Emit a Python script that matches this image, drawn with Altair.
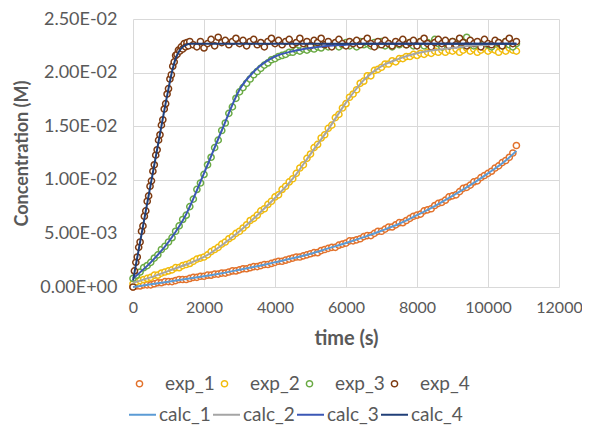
import altair as alt
import pandas as pd

# ---------------- data ----------------
exp_names = ["exp_1", "exp_2", "exp_3", "exp_4"]
calc_names = ["calc_1", "calc_2", "calc_3", "calc_4"]
exp_colors = ["#E2722C", "#F2BC0C", "#6AAA44", "#7E3A10"]
calc_colors = ["#5B9BD5", "#A5A5A5", "#3B57B5", "#203F78"]

# sampling times of the experimental series (s)
t_exp = [0, 100, 200, 300, 400, 500, 600, 700, 800, 900,
         1000, 1100, 1200, 1300, 1400, 1500, 1600, 1700, 1800, 1900,
         2000, 2100, 2200, 2300, 2400, 2500, 2600, 2700, 2800, 2900,
         3000, 3100, 3200, 3300, 3400, 3500, 3600, 3700, 3800, 3900,
         4000, 4100, 4200, 4300, 4400, 4500, 4600, 4700, 4800, 4900,
         5000, 5100, 5200, 5300, 5400, 5500, 5600, 5700, 5800, 5900,
         6000, 6100, 6200, 6300, 6400, 6500, 6600, 6700, 6800, 6900,
         7000, 7100, 7200, 7300, 7400, 7500, 7600, 7700, 7800, 7900,
         8000, 8100, 8200, 8300, 8400, 8500, 8600, 8700, 8800, 8900,
         9000, 9100, 9200, 9300, 9400, 9500, 9600, 9700, 9800, 9900,
         10000, 10100, 10200, 10300, 10400, 10500, 10600, 10700, 10800]

exp_1 = [0.0000, 0.0001, 0.0001, 0.0002, 0.0002, 0.0002, 0.0003, 0.0004, 0.0004, 0.0005,
         0.0005, 0.0005, 0.0006, 0.0007, 0.0007, 0.0007, 0.0008, 0.0009, 0.0009, 0.0010,
         0.0010, 0.0011, 0.0011, 0.0012, 0.0012, 0.0013, 0.0013, 0.0014, 0.0015, 0.0015,
         0.0016, 0.0017, 0.0017, 0.0018, 0.0019, 0.0019, 0.0020, 0.0021, 0.0021, 0.0022,
         0.0023, 0.0024, 0.0024, 0.0025, 0.0026, 0.0027, 0.0028, 0.0028, 0.0029, 0.0030,
         0.0031, 0.0032, 0.0032, 0.0034, 0.0035, 0.0036, 0.0037, 0.0037, 0.0039, 0.0040,
         0.0041, 0.0043, 0.0043, 0.0044, 0.0045, 0.0047, 0.0048, 0.0048, 0.0050, 0.0052,
         0.0052, 0.0054, 0.0056, 0.0056, 0.0058, 0.0060, 0.0060, 0.0062, 0.0064, 0.0066,
         0.0067, 0.0068, 0.0071, 0.0072, 0.0073, 0.0076, 0.0078, 0.0079, 0.0081, 0.0084,
         0.0085, 0.0086, 0.0089, 0.0092, 0.0093, 0.0095, 0.0098, 0.0099, 0.0102, 0.0104,
         0.0106, 0.0108, 0.0111, 0.0113, 0.0116, 0.0118, 0.0121, 0.0125, 0.0132]

exp_2 = [0.0003, 0.0005, 0.0006, 0.0007, 0.0008, 0.0009, 0.0011, 0.0011, 0.0013, 0.0014,
         0.0015, 0.0016, 0.0018, 0.0018, 0.0020, 0.0021, 0.0022, 0.0024, 0.0026, 0.0027,
         0.0028, 0.0030, 0.0033, 0.0035, 0.0037, 0.0040, 0.0042, 0.0045, 0.0047, 0.0050,
         0.0052, 0.0055, 0.0058, 0.0062, 0.0064, 0.0067, 0.0071, 0.0073, 0.0077, 0.0080,
         0.0084, 0.0086, 0.0091, 0.0094, 0.0098, 0.0101, 0.0106, 0.0111, 0.0114, 0.0120,
         0.0124, 0.0130, 0.0133, 0.0139, 0.0142, 0.0148, 0.0151, 0.0158, 0.0161, 0.0167,
         0.0171, 0.0177, 0.0180, 0.0184, 0.0190, 0.0192, 0.0197, 0.0197, 0.0202, 0.0203,
         0.0205, 0.0208, 0.0208, 0.0211, 0.0210, 0.0213, 0.0213, 0.0215, 0.0215, 0.0217,
         0.0216, 0.0218, 0.0217, 0.0219, 0.0218, 0.0220, 0.0219, 0.0221, 0.0219, 0.0221,
         0.0220, 0.0222, 0.0219, 0.0221, 0.0223, 0.0220, 0.0222, 0.0219, 0.0221, 0.0223,
         0.0220, 0.0222, 0.0221, 0.0219, 0.0222, 0.0220, 0.0223, 0.0221, 0.0220]

exp_3 = [0.0008, 0.0011, 0.0014, 0.0018, 0.0020, 0.0023, 0.0027, 0.0030, 0.0035, 0.0038,
         0.0042, 0.0046, 0.0052, 0.0057, 0.0063, 0.0067, 0.0075, 0.0082, 0.0091, 0.0097,
         0.0105, 0.0114, 0.0121, 0.0130, 0.0137, 0.0146, 0.0153, 0.0162, 0.0168, 0.0176,
         0.0182, 0.0186, 0.0190, 0.0194, 0.0198, 0.0201, 0.0204, 0.0207, 0.0209, 0.0212,
         0.0213, 0.0215, 0.0216, 0.0217, 0.0219, 0.0219, 0.0221, 0.0220, 0.0222, 0.0221,
         0.0223, 0.0222, 0.0224, 0.0223, 0.0226, 0.0224, 0.0225, 0.0227, 0.0224, 0.0226,
         0.0228, 0.0225, 0.0227, 0.0224, 0.0229, 0.0226, 0.0227, 0.0225, 0.0228, 0.0226,
         0.0229, 0.0225, 0.0227, 0.0224, 0.0228, 0.0226, 0.0230, 0.0226, 0.0228, 0.0225,
         0.0227, 0.0229, 0.0225, 0.0228, 0.0226, 0.0231, 0.0227, 0.0224, 0.0228, 0.0226,
         0.0229, 0.0227, 0.0231, 0.0226, 0.0233, 0.0227, 0.0225, 0.0228, 0.0226, 0.0229,
         0.0226, 0.0224, 0.0228, 0.0227, 0.0225, 0.0229, 0.0226, 0.0224, 0.0227]

# exp_4 is sampled more densely during its fast rise
t_exp4_rise = [0, 40, 80, 120, 160, 200, 240, 280, 320, 360,
               400, 440, 480, 520, 560, 600, 640, 680, 720, 760,
               800, 840, 880, 920, 960, 1000, 1040, 1080, 1120, 1160,
               1200, 1240, 1280, 1320, 1360, 1400, 1440, 1480, 1520, 1560,
               1600]
exp_4_rise = [0.0000, 0.0015, 0.0023, 0.0028, 0.0037, 0.0042, 0.0052, 0.0057, 0.0066, 0.0071,
              0.0080, 0.0085, 0.0094, 0.0099, 0.0108, 0.0114, 0.0123, 0.0128, 0.0137, 0.0142,
              0.0151, 0.0156, 0.0166, 0.0171, 0.0180, 0.0185, 0.0194, 0.0198, 0.0206, 0.0210,
              0.0216, 0.0217, 0.0221, 0.0220, 0.0224, 0.0222, 0.0227, 0.0224, 0.0228, 0.0225,
              0.0229]
# exp_4 plateau, at t_exp from 1700 s on
exp_4_plateau = [0.0226, 0.0224, 0.0229, 0.0223, 0.0227, 0.0231, 0.0225, 0.0233, 0.0228, 0.0230,
                 0.0226, 0.0229, 0.0232, 0.0227, 0.0230, 0.0225, 0.0229, 0.0231, 0.0226, 0.0228,
                 0.0224, 0.0229, 0.0232, 0.0227, 0.0230, 0.0226, 0.0229, 0.0231, 0.0226, 0.0228,
                 0.0232, 0.0227, 0.0229, 0.0225, 0.0230, 0.0228, 0.0232, 0.0226, 0.0229, 0.0224,
                 0.0228, 0.0231, 0.0227, 0.0225, 0.0229, 0.0227, 0.0230, 0.0226, 0.0229, 0.0232,
                 0.0227, 0.0224, 0.0229, 0.0226, 0.0230, 0.0227, 0.0225, 0.0229, 0.0227, 0.0231,
                 0.0226, 0.0228, 0.0230, 0.0225, 0.0229, 0.0232, 0.0227, 0.0224, 0.0228, 0.0231,
                 0.0227, 0.0230, 0.0225, 0.0229, 0.0226, 0.0232, 0.0228, 0.0225, 0.0230, 0.0227,
                 0.0229, 0.0224, 0.0231, 0.0227, 0.0226, 0.0230, 0.0228, 0.0225, 0.0229, 0.0232,
                 0.0227, 0.0229]

# calculated curves
t_calc = [0, 500, 1000, 1500, 2000, 2500, 3000, 3500, 4000, 4500, 5000, 5500,
          6000, 6500, 7000, 7500, 8000, 8500, 9000, 9500, 10000, 10500, 10800]
calc_1 = [0.0000, 0.00025, 0.0005, 0.00075, 0.0010, 0.00128, 0.0016, 0.00193, 0.0023, 0.00268,
          0.0031, 0.0036, 0.0041, 0.00465, 0.00525, 0.0059, 0.0067, 0.00755, 0.0085, 0.0095,
          0.0106, 0.0118, 0.0127]
calc_2 = [0.0004, 0.0009, 0.0015, 0.0021, 0.0028, 0.0039, 0.0052, 0.0067, 0.0083, 0.0101,
          0.0124, 0.0147, 0.0172, 0.0193, 0.0206, 0.0213, 0.0218, 0.0221, 0.0223, 0.0225,
          0.0226, 0.0227, 0.0227]
calc_3 = [0.0008, 0.0023, 0.0042, 0.0068, 0.0106, 0.0146, 0.0184, 0.0204, 0.0215, 0.0220,
          0.0223, 0.0225, 0.0226, 0.0227, 0.0227, 0.0227, 0.0227, 0.0227, 0.0227, 0.0227,
          0.0227, 0.0227, 0.0227]
t_calc4 = [0, 100, 200, 300, 400, 500, 600, 700, 800, 900, 1000, 1100, 1200, 1300, 1400,
           1500, 1600, 1800, 2000, 2500, 3000, 4000, 5000, 6000, 7000, 8000, 9000, 10000, 10800]
calc_4 = [0.0006, 0.0024, 0.0042, 0.0060, 0.0078, 0.0096, 0.0114, 0.0132, 0.0150, 0.0168,
          0.0185, 0.0201, 0.0213, 0.0220, 0.0224, 0.0226, 0.0227, 0.0227, 0.0227, 0.0227,
          0.0227, 0.0227, 0.0227, 0.0227, 0.0227, 0.0227, 0.0227, 0.0227, 0.0227]

x_ticks = [0, 2000, 4000, 6000, 8000, 10000, 12000]
y_ticks = [0, 0.005, 0.01, 0.015, 0.02, 0.025]
y_tick_labels = ["0.00E+00", "5.00E-03", "1.00E-02", "1.50E-02", "2.00E-02", "2.50E-02"]

# ---------------- tables ----------------
exp_series = [
    ("exp_1", t_exp, exp_1),
    ("exp_2", t_exp, exp_2),
    ("exp_3", t_exp, exp_3),
    ("exp_4", t_exp4_rise + t_exp[17:], exp_4_rise + exp_4_plateau),
]
calc_series = [
    ("calc_1", t_calc, calc_1),
    ("calc_2", t_calc, calc_2),
    ("calc_3", t_calc, calc_3),
    ("calc_4", t_calc4, calc_4),
]
exp_rows = []
for name, ts, cs in exp_series:
    for t, c in zip(ts, cs):
        exp_rows.append({"t": t, "c": c, "series": name})
calc_rows = []
for name, ts, cs in calc_series:
    for t, c in zip(ts, cs):
        calc_rows.append({"t": t, "c": c, "series": name})
exp_df = pd.DataFrame(exp_rows)
calc_df = pd.DataFrame(calc_rows)

label_expr = ""
for v, lab in zip(y_ticks, y_tick_labels):
    label_expr += f"abs(datum.value - {v}) < 1e-7 ? '{lab}' : "
label_expr += "''"

FONT = "Lato"
TXT = "#595959"

x_enc = alt.X("t:Q",
              scale=alt.Scale(domain=[0, 12000], nice=False),
              axis=alt.Axis(values=x_ticks, format="d", title="time (s)",
                            labelFontSize=16,
                            labelPadding=12, labelFlush=False, labelOverlap=False,
                            titleFontSize=20, titleX=213, titleY=51,
                            titleBaseline="middle", titleAlign="center"))
y_enc = alt.Y("c:Q",
              scale=alt.Scale(domain=[0, 0.025], nice=False),
              axis=alt.Axis(values=y_ticks, labelExpr=label_expr,
                            title="Concentration (M)", labelPadding=16,
                            labelFlush=False, labelOverlap=False,
                            titleX=-111, titleY=134, titleAngle=270,
                            titleBaseline="middle", titleAlign="center"))

points = alt.Chart(exp_df).mark_point(
    shape="circle", filled=False, fill="white", fillOpacity=1,
    size=38, strokeWidth=1.5, opacity=1
).encode(
    x=x_enc, y=y_enc,
    stroke=alt.Stroke("series:N",
                      scale=alt.Scale(domain=exp_names, range=exp_colors),
                      legend=alt.Legend(title=None, orient="none", direction="horizontal",
                                        legendX=-3, legendY=355, symbolType="circle",
                                        symbolSize=38, symbolStrokeWidth=1.5,
                                        symbolFillColor="white", labelOffset=16,
                                        columnPadding=-1, padding=0,
                                        labelFontSize=19, labelFont=FONT,
                                        labelColor=TXT, gridAlign="all")),
)

lines = alt.Chart(calc_df).mark_line(strokeWidth=2, interpolate="monotone").encode(
    x=x_enc, y=y_enc,
    color=alt.Color("series:N",
                    scale=alt.Scale(domain=calc_names, range=calc_colors),
                    legend=alt.Legend(title=None, orient="none", direction="horizontal",
                                      legendX=-5, legendY=381, symbolType="stroke",
                                      symbolSize=729, symbolStrokeWidth=2,
                                      labelOffset=2, columnPadding=-2, padding=0,
                                      labelFontSize=19, labelFont=FONT,
                                      labelColor=TXT, gridAlign="all")),
)

chart = alt.layer(points, lines).properties(
    width=426, height=268,
    autosize=alt.AutoSizeParams(type="none"),
    padding={"left": 125, "top": 11, "right": 23, "bottom": 139},
    background="white",
).configure_view(stroke=None).configure_axis(
    grid=True, gridColor="#D9D9D9", gridWidth=1,
    domain=False, ticks=False, tickSize=0,
    labelFont=FONT, labelFontSize=18, labelColor=TXT,
    titleFont=FONT, titleFontSize=18, titleFontWeight="bold", titleColor=TXT,
)

chart.save("out.html", embed_options={"renderer": "svg", "actions": False})
